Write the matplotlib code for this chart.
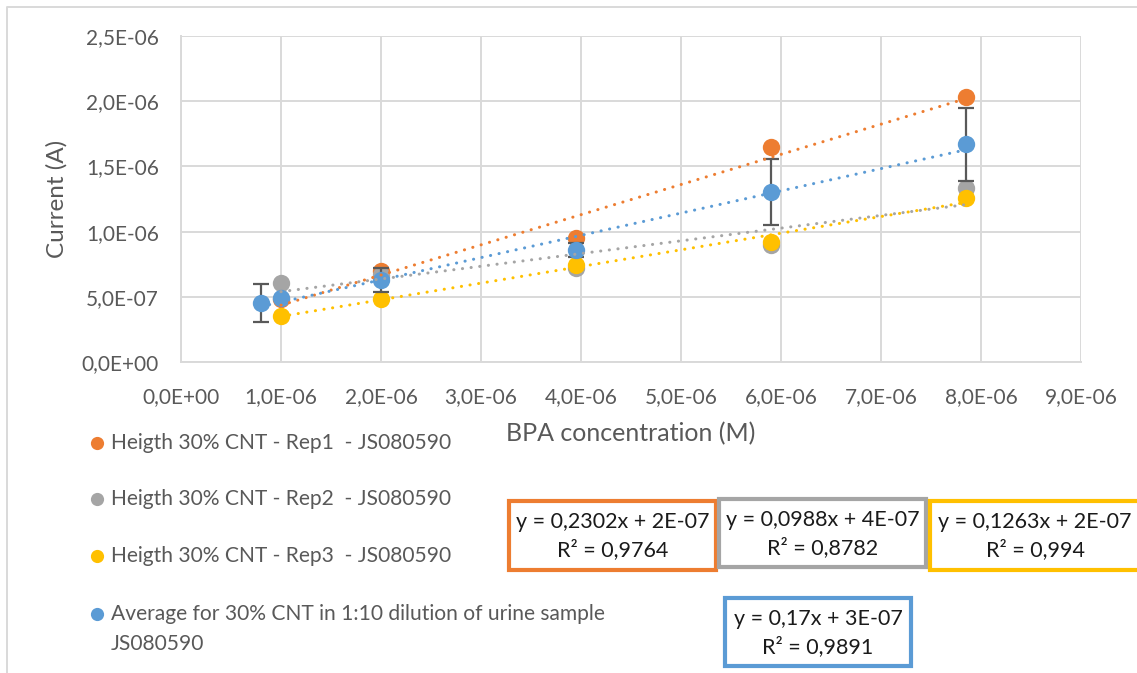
import numpy as np
import matplotlib
matplotlib.use("Agg")
import matplotlib.pyplot as plt
from matplotlib.lines import Line2D
from matplotlib.patches import Rectangle

plt.rcParams['font.family'] = ['Lato', 'DejaVu Sans']

# BPA concentration (M) for the three replicates
conc = np.array([1.0e-6, 2.0e-6, 3.95e-6, 5.9e-6, 7.85e-6])
rep1 = np.array([4.8e-7, 7.0e-7, 9.5e-7, 1.65e-6, 2.03e-6])
rep2 = np.array([6.06e-7, 6.7e-7, 7.2e-7, 8.97e-7, 1.334e-6])
rep3 = np.array([3.5e-7, 4.83e-7, 7.44e-7, 9.2e-7, 1.255e-6])

# Averaged series with its error bars
avg_conc = np.array([0.8e-6, 1.0e-6, 2.0e-6, 3.95e-6, 5.9e-6, 7.85e-6])
avg_curr = np.array([4.52e-7, 4.9e-7, 6.3e-7, 8.59e-7, 1.30e-6, 1.67e-6])
avg_err = np.array([1.45e-7, 0.0, 9.0e-8, 5.0e-8, 2.53e-7, 2.8e-7])

labels = [
    "Heigth 30% CNT - Rep1  - JS080590",
    "Heigth 30% CNT - Rep2  - JS080590",
    "Heigth 30% CNT - Rep3  - JS080590",
    "Average for 30% CNT in 1:10 dilution of urine sample\nJS080590",
]
equations = [
    ("y = 0,2302x + 2E-07", "R² = 0,9764"),
    ("y = 0,0988x + 4E-07", "R² = 0,8782"),
    ("y = 0,1263x + 2E-07", "R² = 0,994"),
    ("y = 0,17x + 3E-07", "R² = 0,9891"),
]
x_ticks = [0, 1e-6, 2e-6, 3e-6, 4e-6, 5e-6, 6e-6, 7e-6, 8e-6, 9e-6]
x_ticklabels = ["0,0E+00", "1,0E-06", "2,0E-06", "3,0E-06", "4,0E-06",
                "5,0E-06", "6,0E-06", "7,0E-06", "8,0E-06", "9,0E-06"]
y_ticks = [0, 5e-7, 1e-6, 1.5e-6, 2e-6, 2.5e-6]
y_ticklabels = ["0,0E+00", "5,0E-07", "1,0E-06", "1,5E-06", "2,0E-06", "2,5E-06"]

colors = ["#ED7D31", "#A5A5A5", "#FFC000", "#5B9BD5"]
text_grey = "#595959"
grid_grey = "#D9D9D9"

W, H = 1137, 673
fig = plt.figure(figsize=(W / 100, H / 100), dpi=100)


def fx(px):
    return px / W


def fy(py):
    return 1 - py / H


ax = fig.add_axes([fx(181), fy(362), fx(1081) - fx(181), fy(36) - fy(362)])
ax.set_xlim(0, 9e-6)
ax.set_ylim(0, 2.5e-6)
ax.set_xticks(x_ticks)
ax.set_xticklabels(x_ticklabels)
ax.set_yticks(y_ticks)
ax.set_yticklabels(y_ticklabels)
ax.tick_params(length=0, labelsize=15, labelcolor=text_grey)
ax.tick_params(axis='x', pad=18)
ax.tick_params(axis='y', pad=16)
ax.grid(True, color=grid_grey, linewidth=1.4, zorder=0)
ax.set_axisbelow(True)
for side in ['top', 'right']:
    ax.spines[side].set_visible(False)
for side in ['left', 'bottom']:
    ax.spines[side].set_color(grid_grey)
    ax.spines[side].set_linewidth(1.4)

ax.set_ylabel("Current (A)", fontsize=17.5, color=text_grey, labelpad=10)
ax.set_xlabel("BPA concentration (M)", fontsize=18, color=text_grey, labelpad=11)

series = [(conc, rep1), (conc, rep2), (conc, rep3), (avg_conc, avg_curr)]
msize = 12.5
for i, ((xs, ys), c) in enumerate(zip(series, colors)):
    if i == 3:
        ax.errorbar(xs, ys, yerr=avg_err, fmt='none', ecolor='#595959',
                    elinewidth=1.6, capsize=6, capthick=1.6, zorder=3 + i)
    ax.plot(xs, ys, 'o', color=c, markersize=msize, markeredgewidth=0,
            zorder=3 + i, clip_on=False)

# Linear trend lines, fitted to each series
for (xs, ys), c in zip(series, colors):
    slope, intercept = np.polyfit(xs, ys, 1)
    xt = np.array([xs.min(), xs.max()])
    ax.plot(xt, slope * xt + intercept, color=c, linewidth=2.2,
            linestyle=(0, (0.05, 2.8)), dash_capstyle='round', zorder=10)

# Chart-area border
fig.add_artist(Line2D([fx(6.5), fx(6.5), fx(1137)], [fy(673), fy(6.5), fy(6.5)],
                      color=grid_grey, linewidth=1.4))

# Legend below the plot
legend_rows = [443, 499, 556, 614]
for lab, c, ry in zip(labels, colors, legend_rows):
    fig.add_artist(Line2D([fx(97)], [fy(ry)], marker='o', color=c,
                          markersize=9.5, markeredgewidth=0, linestyle='none'))
    for k, line in enumerate(lab.split('\n')):
        fig.text(fx(111), fy(ry + 30 * k), line, fontsize=15.1, color=text_grey,
                 ha='left', va='center')

# Trend-line equation boxes
boxes = [(509, 501, 716, 570), (719, 499, 926, 567),
         (930, 501, 1140, 570), (725, 598, 911, 666)]
for (x0, y0, x1, y1), c, (eq, r2) in zip(boxes, colors, equations):
    fig.add_artist(Rectangle((fx(x0), fy(y1)), fx(x1) - fx(x0), fy(y0) - fy(y1),
                             transform=fig.transFigure, facecolor='white',
                             edgecolor=c, linewidth=3))
    cx = (x0 + x1) / 2
    fig.text(fx(cx), fy(y0 + 21), eq, fontsize=15.5, color='#1A1A1A',
             ha='center', va='center')
    fig.text(fx(cx), fy(y0 + 49), r2, fontsize=15.5, color='#1A1A1A',
             ha='center', va='center')

fig.savefig("out.png", dpi=100)
